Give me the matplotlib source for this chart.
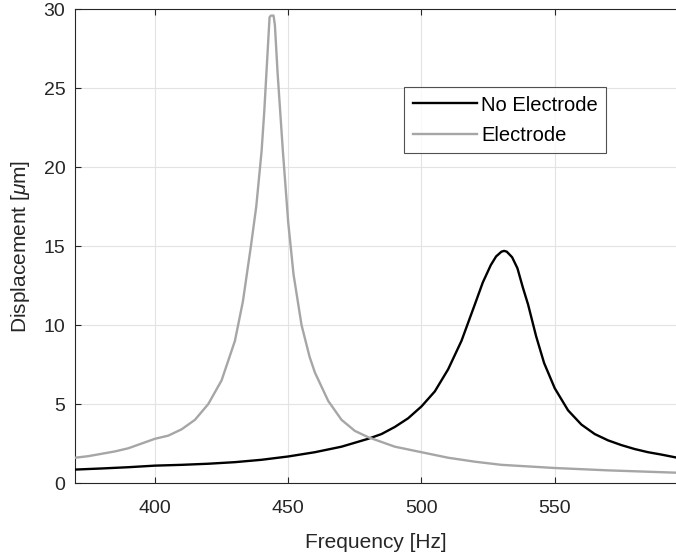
import matplotlib
matplotlib.use("Agg")
import matplotlib.pyplot as plt

plt.rcParams['font.family'] = ['Liberation Sans', 'DejaVu Sans']
plt.rcParams['mathtext.fontset'] = 'custom'
plt.rcParams['mathtext.it'] = 'Liberation Sans:italic'

freq_no = [370, 380, 390, 400, 410, 420, 430, 440, 450, 460, 470, 480, 485, 490, 495,
           500, 505, 510, 515, 520, 523, 526, 528, 530, 531, 532, 534, 536, 538, 540,
           543, 546, 550, 555, 560, 565, 570, 575, 580, 585, 590, 596]
disp_no = [0.85, 0.92, 1.0, 1.1, 1.15, 1.22, 1.32, 1.47, 1.68, 1.95, 2.3, 2.8, 3.1, 3.55, 4.1,
           4.85, 5.8, 7.2, 9.0, 11.3, 12.7, 13.8, 14.35, 14.65, 14.7, 14.65, 14.3, 13.6, 12.4, 11.3,
           9.3, 7.6, 6.0, 4.6, 3.7, 3.1, 2.7, 2.4, 2.15, 1.95, 1.8, 1.6]

freq_el = [370, 375, 380, 385, 390, 395, 400, 405, 410, 415, 420, 425, 430, 433, 436, 438,
           440, 441, 442, 443, 443.5, 444.5, 445, 446, 447, 448, 450, 452, 455, 458, 460,
           465, 470, 475, 480, 485, 490, 500, 510, 520, 530, 540, 550, 570, 596]
disp_el = [1.6, 1.7, 1.85, 2.0, 2.2, 2.5, 2.8, 3.0, 3.4, 4.0, 5.0, 6.5, 9.0, 11.5, 15.0, 17.5,
           21.0, 23.5, 26.5, 29.5, 29.6, 29.6, 29.0, 26.0, 23.5, 21.0, 16.5, 13.2, 10.0, 8.0, 7.0,
           5.2, 4.0, 3.3, 2.9, 2.6, 2.3, 1.95, 1.6, 1.35, 1.15, 1.05, 0.95, 0.8, 0.65]

xticks = [400, 450, 500, 550]
yticks = [0, 5, 10, 15, 20, 25, 30]

fig = plt.figure(figsize=(6.76, 5.6), dpi=100)
ax = fig.add_axes([75 / 676, 77 / 560, 1 - 75 / 676 + 0.002, (483 - 9.3) / 560])

ax.plot(freq_no, disp_no, color='black', lw=1.7, label='No Electrode', zorder=3)
ax.plot(freq_el, disp_el, color='#a6a6a6', lw=1.7, label='Electrode', zorder=3)

ax.set_xlim(370, 596)
ax.set_ylim(0, 30)
ax.set_xticks(xticks)
ax.set_yticks(yticks)
ax.grid(True, color='#e3e3e3', lw=0.8)
ax.set_axisbelow(True)
ax.tick_params(direction='in', length=4, width=0.8, colors='#262626', labelsize=14,
               top=True, right=False)
ax.tick_params(axis='x', pad=12)
ax.tick_params(axis='y', pad=7)
for s in ax.spines.values():
    s.set_color('#262626')
    s.set_linewidth(0.8)

ax.set_xlabel('Frequency [Hz]', fontsize=15, color='#262626', labelpad=12)
ax.set_ylabel(r'Displacement [$\mu$m]', fontsize=15, color='#262626', labelpad=8)

leg = ax.legend(loc='upper left', bbox_to_anchor=(0.547, 0.835), fontsize=14.5,
                frameon=True, fancybox=False, handlelength=3.2, handletextpad=0.2,
                borderpad=0.4, labelspacing=0.55, borderaxespad=0)
leg.get_frame().set_edgecolor('#262626')
leg.get_frame().set_linewidth(0.8)

fig.savefig('out.png', dpi=100)
